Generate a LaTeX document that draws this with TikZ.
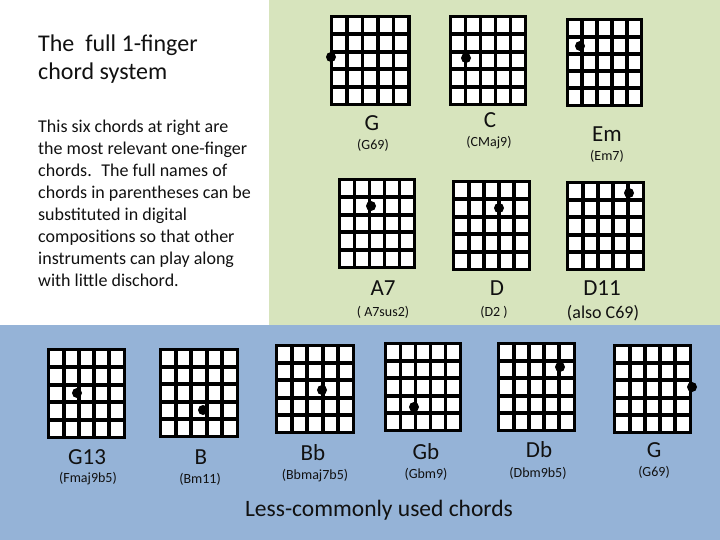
\documentclass[tikz,border=0pt]{standalone}
\usepackage{fontspec}
\setmainfont{Carlito}
\definecolor{bgreen}{HTML}{D7E4BD}
\definecolor{bblue}{HTML}{95B3D7}
\definecolor{ink}{HTML}{111111}
\tikzset{
  gridline/.style={line width=3.8pt, draw=black},
  fingerdot/.style={fill=black},
  chordname/.style={font=\fontsize{23}{26}\selectfont, text=ink, inner sep=0pt},
  chordfull/.style={font=\fontsize{14}{16}\selectfont, text=ink, inner sep=0pt},
}
\newcommand\chordgrid[6]{%
  \fill[white] (#1,#2) rectangle (#3,#4);
  \foreach \i in {1,...,4}{
    \draw[gridline] ({#1+(#3-#1)*\i/5},#2) -- ({#1+(#3-#1)*\i/5},#4);
    \draw[gridline] (#1,{#2+(#4-#2)*\i/5}) -- (#3,{#2+(#4-#2)*\i/5});
  }
  \draw[gridline] (#1,#2) rectangle (#3,#4);
  \fill[fingerdot] (#5,#6) circle[radius=5pt];
}
\begin{document}
\begin{tikzpicture}[x=1pt,y=-1pt]
  \useasboundingbox (0,0) rectangle (720,540);
  \fill[white] (0,0) rectangle (269,325);
  \fill[bgreen] (269,0) rectangle (720,325);
  \fill[bblue] (0,325) rectangle (720,540);

  % top text
  \node[anchor=base west, inner sep=0pt, align=left, text=ink,
        font=\fontsize{24}{28}\selectfont] (title) at (38,80)
        {The~ full 1-finger\\chord system};
  \node[anchor=north west, inner sep=0pt, align=left, text=ink,
        font=\fontsize{18}{22}\selectfont] (body) at (38,120)
        {This six chords at right are\\the most relevant one-finger\\chords.~ The full names of\\chords in parentheses can be\\substituted in digital\\compositions so that other\\instruments can play along\\with little dischord.};

  % relevant chords
  \chordgrid{331.5}{16.5}{409}{104.5}{331}{57}
  \chordgrid{450.5}{16.5}{525.5}{104.5}{466}{58}
  \chordgrid{567.5}{19.5}{641.5}{105.5}{580}{46}
  \chordgrid{339.5}{179.5}{414.5}{267.5}{371}{206}
  \chordgrid{453.5}{181.5}{529.5}{269.5}{499}{208}
  \chordgrid{567.5}{182.5}{643.5}{269.5}{629}{193}

  \node[chordname] (nG) at (372,123) {G};
  \node[chordfull] (fG) at (373,145) {(G69)};
  \node[chordname] (nC) at (490,120) {C};
  \node[chordfull] (fC) at (489,143) {(CMaj9)};
  \node[chordname] (nEm) at (607,134) {Em};
  \node[chordfull] (fEm) at (607,156) {(Em7)};
  \node[chordname] (nA) at (383,288) {A7};
  \node[chordfull] (fA) at (383,312) {( A7sus2)};
  \node[chordname] (nD) at (497,288) {D};
  \node[chordfull] (fD) at (494,312) {(D2 )};
  \node[chordname] (nD11) at (602,288) {D11};
  \node[chordfull, font=\fontsize{18}{20}\selectfont] (fD11) at (603,313) {(also C69)};

  % less common chords
  \chordgrid{48.5}{349.5}{124.5}{437.5}{77}{393}
  \chordgrid{160.5}{349.5}{237.5}{436.5}{203}{410}
  \chordgrid{276.5}{345.5}{353.5}{432.5}{322}{390}
  \chordgrid{385.5}{343.5}{460.5}{430.5}{414}{407}
  \chordgrid{498.5}{343.5}{574.5}{430.5}{560}{367}
  \chordgrid{614.5}{345.5}{690.5}{432.5}{692}{387}

  \node[chordname] (nG13) at (87,457) {G13};
  \node[chordfull] (fG13) at (88,479) {(Fmaj9b5)};
  \node[chordname] (nB) at (201,457) {B};
  \node[chordfull] (fB) at (200,479) {(Bm11)};
  \node[chordname] (nBb) at (313,453) {Bb};
  \node[chordfull] (fBb) at (315,476) {(Bbmaj7b5)};
  \node[chordname] (nGb) at (426,452) {Gb};
  \node[chordfull] (fGb) at (426,474) {(Gbm9)};
  \node[chordname] (nDb) at (539,450) {Db};
  \node[chordfull] (fDb) at (538,473) {(Dbm9b5)};
  \node[chordname] (nG2) at (654,450) {G};
  \node[chordfull] (fG2) at (654,472) {(G69)};

  \node[inner sep=0pt, text=ink, font=\fontsize{23.5}{26}\selectfont] (less) at (379,510) {Less-commonly used chords};
\end{tikzpicture}
\end{document}
